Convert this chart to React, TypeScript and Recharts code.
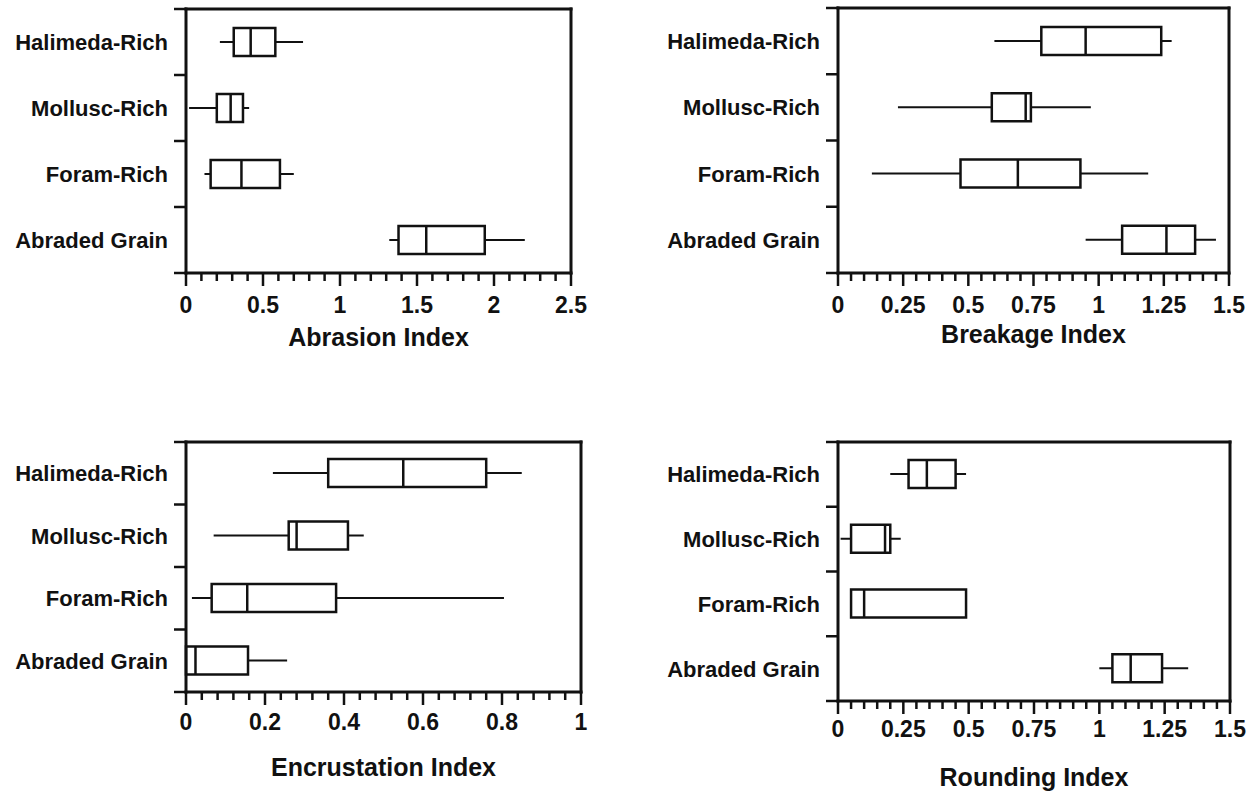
import React from 'react';
import { ComposedChart, Bar, XAxis, YAxis } from 'recharts';

const categories = ['Halimeda-Rich', 'Mollusc-Rich', 'Foram-Rich', 'Abraded Grain'];

// five-number summaries per category: [min, q1, median, q3, max]
const abrasion = [
  [0.22, 0.31, 0.42, 0.58, 0.76],
  [0.02, 0.2, 0.29, 0.37, 0.41],
  [0.12, 0.16, 0.36, 0.61, 0.7],
  [1.32, 1.38, 1.56, 1.94, 2.2],
];
const breakage = [
  [0.6, 0.78, 0.95, 1.24, 1.28],
  [0.23, 0.59, 0.72, 0.74, 0.97],
  [0.13, 0.47, 0.69, 0.93, 1.19],
  [0.95, 1.09, 1.26, 1.37, 1.45],
];
const encrustation = [
  [0.22, 0.36, 0.55, 0.76, 0.85],
  [0.07, 0.26, 0.28, 0.41, 0.45],
  [0.015, 0.065, 0.155, 0.38, 0.805],
  [0, 0, 0.024, 0.157, 0.256],
];
const rounding = [
  [0.2, 0.27, 0.34, 0.45, 0.49],
  [0.01, 0.05, 0.18, 0.2, 0.24],
  [0.05, 0.05, 0.1, 0.49, 0.49],
  [1.0, 1.05, 1.12, 1.24, 1.34],
];

const abrasionTicks = [0, 0.5, 1, 1.5, 2, 2.5];
const breakageTicks = [0, 0.25, 0.5, 0.75, 1, 1.25, 1.5];
const encrustationTicks = [0, 0.2, 0.4, 0.6, 0.8, 1];
const roundingTicks = [0, 0.25, 0.5, 0.75, 1, 1.25, 1.5];

const INK = '#111';
const FONT = '"Liberation Sans", Arial, Helvetica, sans-serif';
const frameLine = { stroke: INK, strokeWidth: 3, strokeLinecap: 'square' as const };

function minorTicks(max: number, step: number) {
  const out: number[] = [];
  const n = Math.round(max / step);
  for (let i = 0; i <= n; i++) out.push(+(i * step).toFixed(4));
  return out;
}

function BoxShape(props: any) {
  const { x, y, width, height, payload } = props;
  const [mn, q1, md, q3, mx] = payload.stats;
  const px = (v: number) => (mx === mn ? x : x + ((v - mn) / (mx - mn)) * width);
  const cy = y + height / 2;
  return (
    <g>
      <line x1={px(mn)} x2={px(q1)} y1={cy} y2={cy} stroke={INK} strokeWidth={2} />
      <line x1={px(q3)} x2={px(mx)} y1={cy} y2={cy} stroke={INK} strokeWidth={2} />
      <rect x={px(q1)} y={y} width={px(q3) - px(q1)} height={height} fill="#fff" stroke={INK} strokeWidth={2.5} />
      <line x1={px(md)} x2={px(md)} y1={y} y2={y + height} stroke={INK} strokeWidth={2.5} />
    </g>
  );
}

function XTick(props: any) {
  const { x, y, payload, majors, labelOff } = props;
  const major = majors.some((m: number) => Math.abs(m - payload.value) < 1e-6);
  return (
    <g>
      <line x1={x} x2={x} y1={y} y2={y + (major ? 13 : 8)} stroke={INK} strokeWidth={2.5} />
      {major && (
        <text x={x} y={y + labelOff} dy="0.36em" textAnchor="middle" fontSize={23} fontWeight={700} fill={INK} fontFamily={FONT}>
          {String(payload.value)}
        </text>
      )}
    </g>
  );
}

// category label plus the band-boundary ticks that sit between categories
function YTick(props: any) {
  const { x, y, payload, index, axisX, band, count } = props;
  return (
    <g>
      <line x1={axisX - 12} x2={axisX} y1={y - band / 2} y2={y - band / 2} stroke={INK} strokeWidth={2.5} />
      {index === count - 1 && (
        <line x1={axisX - 12} x2={axisX} y1={y + band / 2} y2={y + band / 2} stroke={INK} strokeWidth={2.5} />
      )}
      <text x={x} y={y} dy="0.36em" textAnchor="end" fontSize={22} fontWeight={700} fill={INK} fontFamily={FONT}>
        {payload.value}
      </text>
    </g>
  );
}

function Panel(p: any) {
  const rows = categories.map((c, i) => ({ cat: c, range: [p.stats[i][0], p.stats[i][4]], stats: p.stats[i] }));
  const max = p.majors[p.majors.length - 1];
  const band = (p.height - p.mTop - p.xHeight) / categories.length;
  return (
    <div style={{ position: 'absolute', left: p.left, top: p.top }}>
      <ComposedChart layout="vertical" width={p.width} height={p.height} data={rows}
        margin={{ top: p.mTop - 1, right: p.mRight - 1, bottom: 0, left: 0 }}>
        <YAxis yAxisId="cat" type="category" dataKey="cat" width={p.yWidth} tickLine={false} tickSize={0}
          tickMargin={18} axisLine={frameLine} interval={0}
          tick={<YTick axisX={p.yWidth} band={band} count={categories.length} />} />
        <YAxis yAxisId="right" orientation="right" type="category" dataKey="cat" width={1}
          tick={false} tickLine={false} axisLine={frameLine} />
        <XAxis type="number" domain={[0, max]} ticks={minorTicks(max, p.minor)} interval={0}
          height={p.xHeight} tickLine={false} tickSize={0} tickMargin={0} axisLine={frameLine}
          tick={<XTick majors={p.majors} labelOff={p.labelOff} />}
          label={{ value: p.title, position: 'insideTop', offset: p.titleOff - 9, fontSize: 25, fontWeight: 700, fill: INK, fontFamily: FONT }} />
        <XAxis xAxisId="top" orientation="top" type="number" domain={[0, max]} height={1}
          tick={false} tickLine={false} axisLine={frameLine} />
        <Bar yAxisId="cat" dataKey="range" barSize={28} shape={<BoxShape />} isAnimationActive={false} />
      </ComposedChart>
    </div>
  );
}

export default function App() {
  return (
    <div style={{ position: 'absolute', left: 0, top: 0, width: 1259, height: 792, background: '#fff', fontFamily: FONT }}>
      <Panel left={0} top={0} width={600} height={380} mTop={9} mRight={29} yWidth={186} xHeight={107}
        stats={abrasion} majors={abrasionTicks} minor={0.1} labelOff={32} titleOff={64} title="Abrasion Index" />
      <Panel left={620} top={0} width={639} height={380} mTop={8} mRight={30} yWidth={218} xHeight={107}
        stats={breakage} majors={breakageTicks} minor={0.05} labelOff={32} titleOff={61} title="Breakage Index" />
      <Panel left={0} top={400} width={600} height={392} mTop={42} mRight={19} yWidth={186} xHeight={100}
        stats={encrustation} majors={encrustationTicks} minor={0.04} labelOff={30} titleOff={75} title="Encrustation Index" />
      <Panel left={620} top={400} width={639} height={392} mTop={42} mRight={29} yWidth={218} xHeight={91}
        stats={rounding} majors={roundingTicks} minor={0.05} labelOff={28} titleOff={76} title="Rounding Index" />
    </div>
  );
}
